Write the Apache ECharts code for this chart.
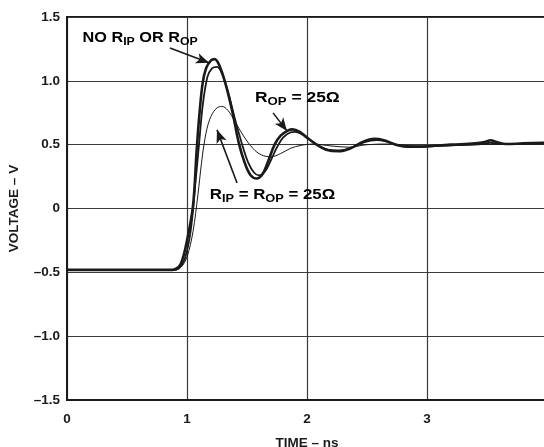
<!DOCTYPE html>
<html><head><meta charset="utf-8">
<script src="https://cdn.jsdelivr.net/npm/echarts@6/dist/echarts.min.js"></script>
<style>html,body{margin:0;padding:0;background:#fff}#c{width:544px;height:447px}</style>
</head><body><div id="c"></div>
<script>
// TIME (ns) / VOLTAGE (V)
var tNone = [0,0.85,0.9,0.95,1.0,1.05,1.08,1.1,1.13,1.16,1.2,1.23,1.27,1.32,1.38,1.43,1.48,1.53,1.58,1.63,1.68,1.73,1.78,1.84,1.88,1.94,2.0,2.08,2.16,2.26,2.36,2.46,2.56,2.64,2.74,2.84,2.94,3.04,3.2,3.4,3.48,3.53,3.58,3.66,3.8,4.0];
var vNone = [-0.48,-0.48,-0.475,-0.43,-0.25,0.02,0.45,0.7,0.98,1.1,1.16,1.17,1.12,0.98,0.75,0.52,0.36,0.26,0.235,0.27,0.38,0.5,0.57,0.61,0.62,0.6,0.555,0.5,0.46,0.448,0.47,0.52,0.545,0.535,0.5,0.485,0.485,0.49,0.5,0.51,0.52,0.535,0.52,0.505,0.51,0.515];
var tRop = [0,0.88,0.93,0.98,1.03,1.07,1.1,1.13,1.17,1.21,1.25,1.29,1.34,1.4,1.46,1.51,1.56,1.6,1.65,1.7,1.75,1.8,1.86,1.9,1.96,2.02,2.1,2.18,2.28,2.38,2.48,2.58,2.66,2.76,2.88,3.0,3.2,3.45,3.53,3.6,3.8,4.0];
var vRop = [-0.485,-0.485,-0.47,-0.4,-0.18,0.2,0.5,0.8,1.03,1.1,1.11,1.06,0.92,0.7,0.5,0.36,0.28,0.26,0.29,0.38,0.48,0.555,0.595,0.6,0.58,0.54,0.49,0.46,0.455,0.48,0.52,0.535,0.525,0.495,0.48,0.485,0.495,0.505,0.515,0.505,0.505,0.51];
var tBoth = [0,0.9,0.95,1.0,1.05,1.09,1.12,1.15,1.19,1.24,1.29,1.34,1.4,1.47,1.55,1.62,1.7,1.78,1.86,1.95,2.05,2.2,2.35,2.5,2.7,2.9,3.1,3.4,3.7,4.0];
var vBoth = [-0.48,-0.48,-0.46,-0.38,-0.18,0.1,0.35,0.55,0.7,0.78,0.8,0.77,0.68,0.57,0.47,0.42,0.405,0.43,0.47,0.495,0.505,0.49,0.48,0.5,0.505,0.49,0.49,0.5,0.505,0.51];
var xTicks = ['0','1','2','3'];
var yTicks = ['\u20131.5','\u20131.0','\u20130.5','0','0.5','1.0','1.5'];

function zip(a,b){return a.map(function(x,i){return [x,b[i]];});}
var FONT = '"Liberation Sans", Arial, sans-serif';
var INK = '#1a1a1a';
var chart = echarts.init(document.getElementById('c'), null, {renderer:'canvas'});

function arrowLine(a, b){
  return [{coord:a, symbol:'none'},{coord:b, symbol:'arrow', symbolSize:[8,13]}];
}

chart.setOption({
  animation:false,
  backgroundColor:'#fff',
  grid:{left:67, top:17, width:480, height:383, outerBoundsMode:'none', containLabel:false,
    show:true, borderColor:INK, borderWidth:2},
  xAxis:{type:'value', min:0, max:4, interval:1,
    axisLine:{show:true, onZero:false, lineStyle:{color:INK, width:2}}, axisTick:{show:false},
    splitLine:{show:true, lineStyle:{color:'#3a3a3a', width:1.2}},
    axisLabel:{color:INK, fontFamily:FONT, fontWeight:'bold', fontSize:13.5, margin:12,
      formatter:function(v){var i=Math.round(v);return i<xTicks.length?xTicks[i]:'';}},
    name:'TIME \u2013 ns', nameLocation:'middle', nameGap:36,
    nameTextStyle:{color:INK, fontFamily:FONT, fontWeight:'bold', fontSize:13.5}},
  yAxis:{type:'value', min:-1.5, max:1.5, interval:0.5,
    axisLine:{show:true, onZero:false, lineStyle:{color:INK, width:2}}, axisTick:{show:false},
    splitLine:{show:true, lineStyle:{color:'#3a3a3a', width:1.2}},
    axisLabel:{color:INK, fontFamily:FONT, fontWeight:'bold', fontSize:13.5, margin:7,
      formatter:function(v){return yTicks[Math.round((v+1.5)/0.5)];}},
    name:'VOLTAGE \u2013 V', nameLocation:'middle', nameGap:46,
    nameTextStyle:{color:INK, fontFamily:FONT, fontWeight:'bold', fontSize:13.5}},
  series:[
    {type:'line', name:'both', data:zip(tBoth,vBoth), smooth:0.35, showSymbol:false,
      lineStyle:{color:INK, width:1}},
    {type:'line', name:'rop', data:zip(tRop,vRop), smooth:0.35, showSymbol:false,
      lineStyle:{color:INK, width:1.8}},
    {type:'line', name:'none', data:zip(tNone,vNone), smooth:0.35, showSymbol:false,
      lineStyle:{color:INK, width:2.6},
      markLine:{silent:true, animation:false, label:{show:false},
        lineStyle:{color:INK, width:1.6, type:'solid'},
        itemStyle:{color:INK},
        data:[arrowLine([0.858,1.258],[1.183,1.141]),
              arrowLine([1.717,0.749],[1.833,0.608]),
              arrowLine([1.417,0.2],[1.25,0.616])]}}
  ]
});

var rich = {
  m:{fontFamily:FONT, fontWeight:'bold', fontSize:14.5, color:INK, lineHeight:18},
  s:{fontFamily:FONT, fontWeight:'bold', fontSize:11, color:INK, lineHeight:18, padding:[8,0,0,0]}
};
var labels = [
  {pos:[0.13,1.337], sx:1.12, text:'{m|NO R}{s|IP}{m| OR R}{s|OP}'},
  {pos:[1.567,0.867], sx:1.2, text:'{m|R}{s|OP}{m| = 25\u03A9}'},
  {pos:[1.19,0.107], sx:1.16, text:'{m|R}{s|IP}{m| = R}{s|OP}{m| = 25\u03A9}'}
];
chart.setOption({graphic: labels.map(function(l){
  var p = chart.convertToPixel({gridIndex:0}, l.pos);
  return {type:'text', x:p[0], y:p[1], scaleX:l.sx, style:{text:l.text, rich:rich, verticalAlign:'middle', align:'left'}};
})});
</script></body></html>
